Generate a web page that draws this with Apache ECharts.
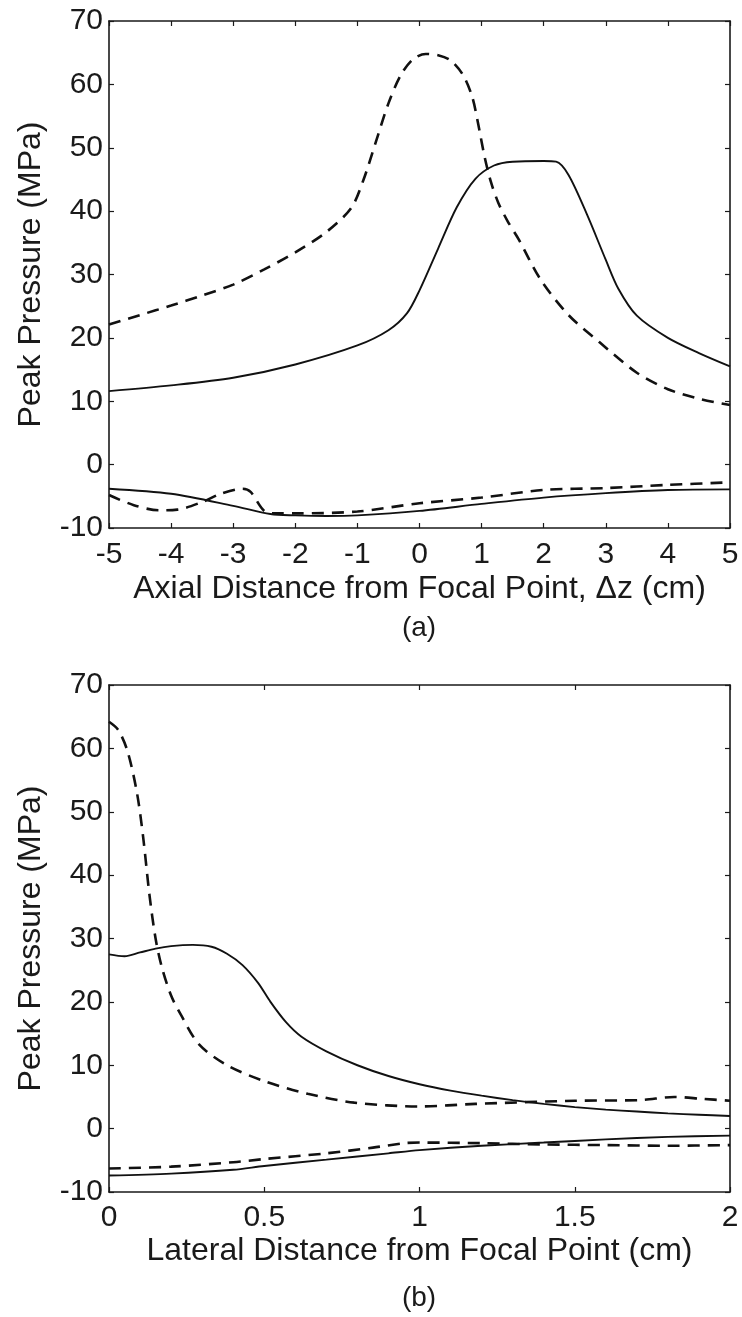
<!DOCTYPE html>
<html>
<head>
<meta charset="utf-8">
<script src="https://cdn.jsdelivr.net/npm/echarts@6/dist/echarts.min.js"></script>
<style>
  html, body { margin: 0; padding: 0; background: #fff; }
  #chart { width: 742px; height: 1317px; }
</style>
</head>
<body>
<div id="chart"></div>
<script>
// (a) axial profiles
const axialPosDashX = [-5, -4.5, -4, -3.5, -3, -2.5, -2, -1.5, -1.1, -0.9, -0.7, -0.5, -0.3, -0.1, 0.1, 0.3, 0.5, 0.7, 0.85, 0.95, 1.05, 1.15, 1.27, 1.42, 1.6, 1.95, 2.4, 2.9, 3.5, 4.0, 4.5, 5.0];
const axialPosDashY = [22.1, 23.6, 25.1, 26.7, 28.4, 30.8, 33.5, 36.7, 40.5, 45, 51, 57, 61.5, 64, 64.8, 64.6, 63.8, 61.5, 58, 53.5, 48.5, 44.6, 41.3, 38.4, 35.5, 29.2, 23.6, 19.3, 14.5, 11.9, 10.4, 9.4];
const axialPosSolidX = [-5, -4, -3, -2, -1, -0.5, -0.2, 0, 0.3, 0.6, 0.9, 1.2, 1.5, 2.0, 2.2, 2.4, 2.7, 3.0, 3.2, 3.5, 4.0, 4.5, 5.0];
const axialPosSolidY = [11.6, 12.5, 13.7, 15.8, 18.8, 21.2, 23.9, 27.5, 34.1, 40.6, 45.1, 47.2, 47.8, 47.9, 47.8, 45.7, 39.4, 32.3, 27.8, 23.5, 20, 17.6, 15.5];
const axialNegSolidX = [-5, -4, -3, -2.4, -2, -1.5, -1, 0, 1, 2, 3, 4, 5];
const axialNegSolidY = [-3.8, -4.6, -6.5, -7.8, -8.0, -8.1, -8.0, -7.3, -6.2, -5.2, -4.5, -4.0, -3.9];
const axialNegDashX = [-5, -4.6, -4.2, -3.9, -3.5, -3.2, -2.85, -2.72, -2.5, -2.3, -2, -1, 0, 1, 2, 3, 4, 5];
const axialNegDashY = [-4.8, -6.4, -7.2, -7.1, -5.9, -4.6, -3.8, -4.3, -7.3, -7.7, -7.7, -7.4, -6.1, -5.2, -4.0, -3.7, -3.2, -2.8];

// (b) lateral profiles
const latPosDashX = [0, 0.03, 0.06, 0.09, 0.11, 0.13, 0.15, 0.17, 0.2, 0.23, 0.29, 0.38, 0.5, 0.64, 0.79, 1.0, 1.18, 1.5, 1.71, 1.82, 1.91, 2.0];
const latPosDashY = [64.2, 62.9, 59.5, 53, 46, 37, 30, 25.5, 21, 18.1, 13.3, 10, 7.5, 5.5, 4.1, 3.5, 3.9, 4.4, 4.5, 5.0, 4.7, 4.4];
const latPosSolidX = [0, 0.05, 0.1, 0.15, 0.2, 0.27, 0.33, 0.38, 0.43, 0.48, 0.52, 0.57, 0.62, 0.7, 0.8, 0.9, 1.0, 1.1, 1.2, 1.3, 1.4, 1.5, 1.6, 1.7, 1.8, 1.9, 2.0];
const latPosSolidY = [27.5, 27.2, 27.8, 28.4, 28.8, 29.0, 28.7, 27.6, 25.8, 23.0, 20.0, 16.8, 14.5, 12.2, 10.0, 8.3, 7.0, 6.0, 5.2, 4.5, 3.9, 3.4, 3.0, 2.7, 2.4, 2.2, 2.0];
const latNegDashX = [0, 0.2, 0.4, 0.5, 0.7, 0.85, 0.95, 1.0, 1.2, 1.4, 1.6, 1.8, 2.0];
const latNegDashY = [-6.3, -6.0, -5.3, -4.8, -3.9, -3.0, -2.3, -2.2, -2.3, -2.5, -2.6, -2.7, -2.6];
const latNegSolidX = [0, 0.2, 0.4, 0.5, 0.7, 0.9, 1.0, 1.2, 1.4, 1.6, 1.8, 2.0];
const latNegSolidY = [-7.4, -7.1, -6.5, -5.9, -4.9, -3.9, -3.4, -2.7, -2.2, -1.7, -1.3, -1.1];

const yTicks = {min: -10, max: 70, interval: 10};
const axialTicks = {min: -5, max: 5, interval: 1};
const lateralTicks = {min: 0, max: 2, interval: 0.5};

const FONT = "'Liberation Sans', Arial, sans-serif";
const INK = '#1a1a1a';

function zip(xs, ys) {
    return xs.map((x, i) => [x, ys[i]]);
}

function frameAxis(extra) {
    return Object.assign({
        type: 'value',
        axisLine: {show: true, onZero: false, lineStyle: {color: INK, width: 1.6}},
        axisTick: {show: true, inside: true, length: 5, lineStyle: {color: INK, width: 1.2}},
        splitLine: {show: false},
        axisLabel: {show: false}
    }, extra);
}

function labelStyle(margin) {
    return {show: true, color: INK, fontFamily: FONT, fontSize: 30, margin: margin};
}

function nameStyle() {
    return {color: INK, fontFamily: FONT, fontSize: 32};
}

function curve(name, xs, ys, dashed, idx) {
    return {
        name: name,
        type: 'line',
        xAxisIndex: idx,
        yAxisIndex: idx,
        data: zip(xs, ys),
        showSymbol: false,
        smooth: 0.3,
        silent: true,
        lineStyle: {
            color: '#111',
            width: dashed ? 2.6 : 1.9,
            type: dashed ? [12, 8] : 'solid'
        }
    };
}

const chart = echarts.init(document.getElementById('chart'), null, {renderer: 'canvas'});

const option = {
    backgroundColor: '#fff',
    animation: false,
    grid: [
        {left: 109, top: 21, width: 621, height: 507},
        {left: 109, top: 685, width: 621, height: 507}
    ],
    xAxis: [
        frameAxis(Object.assign({gridIndex: 0, position: 'bottom',
            name: 'Axial Distance from Focal Point, \u0394z (cm)', nameLocation: 'middle', nameGap: 45,
            nameTextStyle: nameStyle(), axisLabel: labelStyle(12)}, axialTicks)),
        frameAxis(Object.assign({gridIndex: 1, position: 'bottom',
            name: 'Lateral Distance from Focal Point (cm)', nameLocation: 'middle', nameGap: 43,
            nameTextStyle: nameStyle(), axisLabel: labelStyle(11)}, lateralTicks)),
        frameAxis(Object.assign({gridIndex: 0, position: 'top'}, axialTicks)),
        frameAxis(Object.assign({gridIndex: 1, position: 'top'}, lateralTicks))
    ],
    yAxis: [
        frameAxis(Object.assign({gridIndex: 0, position: 'left',
            name: 'Peak Pressure (MPa)', nameLocation: 'middle', nameGap: 62,
            nameTextStyle: nameStyle(), axisLabel: labelStyle(6)}, yTicks)),
        frameAxis(Object.assign({gridIndex: 1, position: 'left',
            name: 'Peak Pressure (MPa)', nameLocation: 'middle', nameGap: 62,
            nameTextStyle: nameStyle(), axisLabel: labelStyle(6)}, yTicks)),
        frameAxis(Object.assign({gridIndex: 0, position: 'right'}, yTicks)),
        frameAxis(Object.assign({gridIndex: 1, position: 'right'}, yTicks))
    ],
    graphic: [
        {type: 'text', x: 419, y: 628, style: {text: '(a)', align: 'center', verticalAlign: 'middle', fill: INK, font: '28px ' + FONT}},
        {type: 'text', x: 419, y: 1298, style: {text: '(b)', align: 'center', verticalAlign: 'middle', fill: INK, font: '28px ' + FONT}}
    ],
    series: [
        curve('axial peak positive, dashed', axialPosDashX, axialPosDashY, true, 0),
        curve('axial peak positive, solid', axialPosSolidX, axialPosSolidY, false, 0),
        curve('axial peak negative, dashed', axialNegDashX, axialNegDashY, true, 0),
        curve('axial peak negative, solid', axialNegSolidX, axialNegSolidY, false, 0),
        curve('lateral peak positive, dashed', latPosDashX, latPosDashY, true, 1),
        curve('lateral peak positive, solid', latPosSolidX, latPosSolidY, false, 1),
        curve('lateral peak negative, dashed', latNegDashX, latNegDashY, true, 1),
        curve('lateral peak negative, solid', latNegSolidX, latNegSolidY, false, 1)
    ]
};

chart.setOption(option);
</script>
</body>
</html>
